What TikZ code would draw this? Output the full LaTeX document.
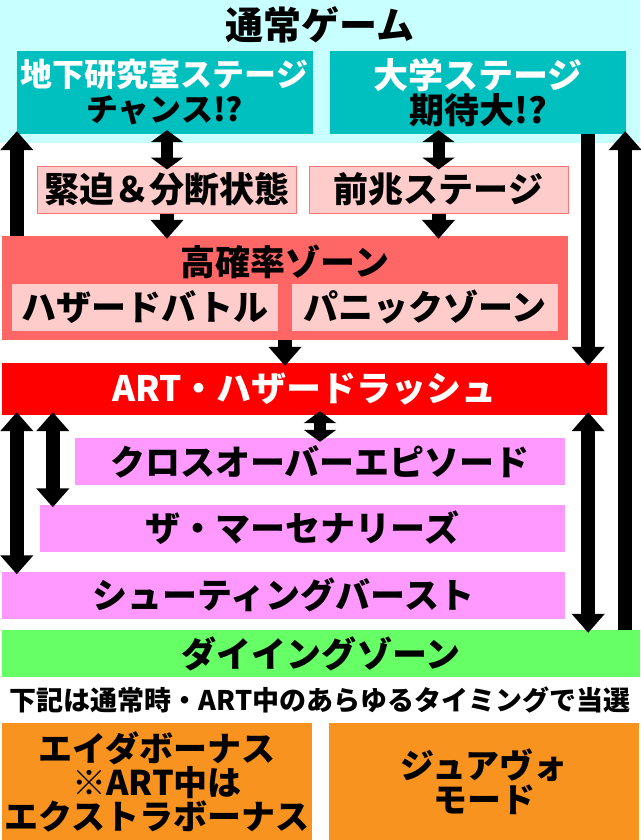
\documentclass[tikz,border=0pt]{standalone}
\usepackage{fontspec}
\setmainfont{Noto Sans CJK JP}[BoldFont={* Black}]
\usetikzlibrary{arrows.meta}

\definecolor{lightcyan}{HTML}{C8FFFF}
\definecolor{stageteal}{HTML}{00BFBF}
\definecolor{lightpink}{HTML}{FFCCCC}
\definecolor{zonered}{HTML}{FF6666}
\definecolor{artred}{HTML}{FF0000}
\definecolor{epviolet}{HTML}{FF99FF}
\definecolor{dyinggreen}{HTML}{66FF66}
\definecolor{bonusorange}{HTML}{F7931E}

\newcommand{\fsz}[2]{\fontsize{#1}{#2}\selectfont}

\begin{document}
\begin{tikzpicture}[x=1pt, y=-1pt,
  base box/.style={rectangle, inner sep=0pt, align=center, font=\bfseries\fsz{35}{35}},
  stage box/.style={base box, fill=stageteal, minimum width=296pt, minimum height=83pt},
  omen box/.style={base box, fill=lightpink, draw=zonered!90, line width=1pt, minimum width=259pt, minimum height=47pt},
  zone box/.style={base box, fill=lightpink, minimum width=266pt, minimum height=47pt},
  ep box/.style={base box, fill=epviolet, minimum height=47pt},
  bonus box/.style={base box, fill=bonusorange, minimum width=310pt, minimum height=117pt, font=\bfseries\fsz{34}{34}},
  big arrow/.style={line width=14pt, -{Triangle[width=32pt,length=19pt]}, shorten >=-3pt},
  twin arrow/.style={line width=14pt, {Triangle[width=32pt,length=19pt]}-{Triangle[width=32pt,length=19pt]}, shorten <=-3pt, shorten >=-3pt},
  short twin/.style={line width=12pt, {Triangle[width=32pt,length=12pt]}-{Triangle[width=32pt,length=12pt]}, shorten <=-4pt, shorten >=-4pt}]
        \tikzstyle{every node}=[text=black]
        \useasboundingbox (0,0) rectangle (640,840);

          % normal game
          \node[base box, fill=lightcyan, minimum width=640pt, minimum height=143pt] (tsujo) at (320,71.5) {};
          \node[base box, font=\bfseries\fsz{38}{38}] (tsujotitle) at (320,25) {通常ゲーム};
          \node[stage box, font=\bfseries\fsz{32}{35}] (chika) at (164.5,92.5) {\textcolor{white}{地下研究室ステージ}\\チャンス!?};
          \node[stage box, font=\bfseries\fsz{35}{35}] (daigaku) at (478,92.5) {\textcolor{white}{大学ステージ}\\期待大!?};
          \node[omen box] (kinpaku) at (167,189.5) {緊迫＆分断状態};
          \node[omen box] (zencho) at (438.5,189.5) {前兆ステージ};

          % high probability zone
          \node[base box, fill=zonered, minimum width=566pt, minimum height=104pt] (kakuritsu) at (285,288) {};
          \node[base box] (kakuritsutitle) at (285,262) {高確率ゾーン};
          \node[zone box] (hazard) at (145,307.5) {ハザードバトル};
          \node[zone box] (panic) at (425,307.5) {パニックゾーン};

          % ART
          \node[base box, fill=artred, text=white, minimum width=605pt, minimum height=52pt] (art) at (304.5,389) {ART・ハザードラッシュ};
          \node[ep box, minimum width=490pt] (crossover) at (320,461.5) {クロスオーバーエピソード};
          \node[ep box, minimum width=525pt] (mercenaries) at (302.5,528) {ザ・マーセナリーズ};
          \node[ep box, minimum width=563pt] (shooting) at (283.5,595) {シューティングバースト};
          \node[base box, fill=dyinggreen, minimum width=638pt, minimum height=47pt] (dying) at (321,653.5) {ダイイングゾーン};

          % bonus
          \node[base box, font=\bfseries\fsz{27}{27}] (note) at (320,700) {下記は通常時・ART中のあらゆるタイミングで当選};
          \node[bonus box] (aida) at (157,781.5) {エイダボーナス\\※ART中は\\エクストラボーナス};
          \node[bonus box] (jua) at (484,781.5) {ジュアヴォ\\モード};

          \path (kakuritsu.north west) ++(15,0) coordinate (upL);
          \path (art.north east) ++(-19,0) coordinate (downR);
          \path (dying.north east) ++(-15,0) coordinate (upR);
          \path (art.south west) ++(15,0) coordinate (twinA);
          \path (art.south west) ++(51,0) coordinate (twinB);

          \draw[big arrow] (upL) -- (upL |- daigaku.south);
          \draw[short twin] (kinpaku.north |- chika.south) -- (kinpaku.north);
          \draw[short twin] (zencho.north |- daigaku.south) -- (zencho.north);
          \draw[big arrow] (kinpaku.south) -- (kinpaku.south |- kakuritsu.north);
          \draw[big arrow] (zencho.south) -- (zencho.south |- kakuritsu.north);
          \draw[big arrow] (downR |- daigaku.south) -- (downR);
          \draw[big arrow] (upR) -- (upR |- daigaku.south);
          \draw[big arrow] (kakuritsu.south) -- (kakuritsu.south |- art.north);
          \draw[twin arrow] (twinA) -- (twinA |- shooting.north);
          \draw[twin arrow] (twinB) -- (twinB |- mercenaries.north);
          \draw[short twin] (crossover.north |- art.south) -- (crossover.north);
          \draw[twin arrow] (downR |- art.south) -- (downR |- dying.north);

        \end{tikzpicture}
\end{document}
